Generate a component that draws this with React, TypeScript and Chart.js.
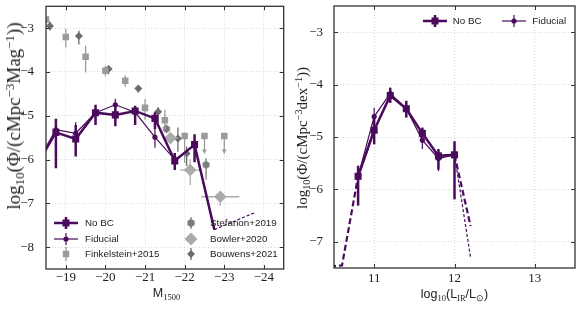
import { useEffect, useRef } from 'react';
import { Chart, registerables } from 'chart.js';

Chart.register(...registerables);

const PURPLE = '#4a0b5d';
const GRAY_FINK = '#9b9b9b';
const GRAY_STEF = '#7c7c7c';
const GRAY_BOWL = '#ababab';
const GRAY_BOUW = '#6c6c6c';

// ---------- UV panel ----------
const uvTicksX = [-19, -20, -21, -22, -23, -24];
const uvTicksY = [-3, -4, -5, -6, -7, -8];
const magBins = [-18.25, -18.75, -19.25, -19.75, -20.25, -20.75, -21.25, -21.75, -22.25, -22.75];
const noBcUV = [-6.15, -5.38, -5.53, -4.93, -4.98, -4.89, -5.06, -6.03, -5.66, -7.6];
const noBcUVLo = [-6.4, -6.2, -5.93, -5.21, -5.24, -5.21, -5.3, -6.24, -6.06, null];
const noBcUVHi = [-5.9, -5.07, -5.21, -4.75, -4.8, -4.77, -4.92, -5.85, -5.42, null];
const fidUV = [-6.1, -5.32, -5.4, -4.93, -4.75, -4.92, -5.49, -6.0, -5.68, -7.6];
const fidUVLo = [-6.35, -5.6, -5.7, -5.15, -4.98, -5.12, -5.73, -6.2, -5.95, null];
const fidUVHi = [-5.85, -5.1, -5.15, -4.76, -4.61, -4.78, -5.3, -5.85, -5.45, null];
const uvTailMag = [-22.75, -23.75];
const uvTailPhi = [-7.6, -7.22];

const finkMag = [-18.5, -19.0, -19.5, -20.0, -20.5, -21.0, -21.5, -22.0];
const finkPhi = [-2.8, -3.2, -3.65, -3.97, -4.2, -4.82, -5.1, -5.46];
const finkLo = [-2.9, -3.44, -4.01, -4.1, -4.34, -5.09, -5.32, -6.08];
const finkHi = [-2.7, -3.02, -3.4, -3.86, -4.08, -4.62, -4.86, -5.38];
const finkLimMag = [-22.5, -23.0];
const finkLimPhi = [-5.46, -5.46];

const stefMag = [-21.54, -22.54];
const stefPhi = [-5.3, -6.12];
const stefLo = [-5.4, -6.46];
const stefHi = [-5.2, -5.97];

const bowlMag = [-21.64, -22.14, -22.9];
const bowlPhi = [-5.51, -6.24, -6.85];
const bowlLo = [-5.58, -6.58, -7.06];
const bowlHi = [-5.44, -6.0, -6.74];
const bowlXErr = [0.2, 0.25, 0.48];

const bouwMag = [-18.6, -19.33, -20.08, -20.83, -21.33, -21.83, -22.05];
const bouwPhi = [-2.95, -3.18, -3.93, -4.38, -4.91, -5.52, -5.86];
const bouwLo = [-3.05, -3.37, -4.05, -4.47, -5.2, -5.82, -6.15];
const bouwHi = [-2.85, -3.06, -3.86, -4.3, -4.8, -5.27, -5.7];

// ---------- IR panel ----------
const irTicksX = [11, 12, 13];
const irTicksY = [-3, -4, -5, -6, -7];
const irBins = [10.8, 11.0, 11.2, 11.4, 11.6, 11.8, 12.0];
const noBcIR = [-5.75, -4.87, -4.21, -4.46, -4.93, -5.36, -5.34];
const noBcIRLo = [-6.31, -5.14, -4.35, -4.63, -5.1, -5.62, -6.19];
const noBcIRHi = [-5.55, -4.62, -4.06, -4.31, -4.82, -5.23, -5.08];
const fidIR = [-5.75, -4.61, -4.17, -4.46, -5.06, -5.41, -5.34];
const fidIRLo = [-6.0, -4.85, -4.3, -4.6, -5.23, -5.65, -5.6];
const fidIRHi = [-5.55, -4.44, -4.06, -4.33, -4.9, -5.25, -5.15];
const irLowTailX = [10.45, 10.6, 10.8, 11.0];
const irLowTailY = [-7.47, -7.45, -5.75, -4.87];
const irHighTailX = [12.0, 12.2];
const noBcHighTail = [-5.34, -6.7];
const fidHighTail = [-5.34, -7.3];

const pts = (xs: number[], ys: number[]) => xs.map((x, i) => ({ x, y: ys[i] }));
const fmt = (v: number) => (v < 0 ? '\u2212' + Math.abs(v) : String(v));

function hexImage(r: number, color: string) {
  const c = document.createElement('canvas');
  const s = Math.ceil(2 * r + 2);
  c.width = s;
  c.height = s;
  const ctx = c.getContext('2d')!;
  ctx.fillStyle = color;
  ctx.beginPath();
  for (let k = 0; k < 6; k++) {
    const a = -Math.PI / 2 + (k * Math.PI) / 3;
    const px = s / 2 + r * Math.cos(a);
    const py = s / 2 + r * Math.sin(a);
    if (k === 0) ctx.moveTo(px, py);
    else ctx.lineTo(px, py);
  }
  ctx.closePath();
  ctx.fill();
  return c;
}

const errorBarPlugin = {
  id: 'errbars',
  beforeDatasetDraw(chart: any, args: any) {
    const ds = chart.data.datasets[args.index];
    if (!ds.errLo && !ds.xErr && !ds.limLen) return;
    const xs = chart.scales.x;
    const ys = chart.scales.y;
    const a = chart.chartArea;
    const ctx = chart.ctx;
    ctx.save();
    ctx.beginPath();
    ctx.rect(a.left, a.top, a.right - a.left, a.bottom - a.top);
    ctx.clip();
    ctx.strokeStyle = ds.errColor || ds.borderColor;
    ctx.fillStyle = ds.errColor || ds.borderColor;
    ctx.lineWidth = ds.errWidth || 1.2;
    ctx.setLineDash([]);
    ds.data.forEach((p: any, i: number) => {
      const px = xs.getPixelForValue(p.x);
      const py = ys.getPixelForValue(p.y);
      if (ds.errLo && ds.errLo[i] != null) {
        ctx.beginPath();
        ctx.moveTo(px, ys.getPixelForValue(ds.errLo[i]));
        ctx.lineTo(px, ys.getPixelForValue(ds.errHi[i]));
        ctx.stroke();
      }
      if (ds.xErr && ds.xErr[i]) {
        ctx.beginPath();
        ctx.moveTo(xs.getPixelForValue(p.x - ds.xErr[i]), py);
        ctx.lineTo(xs.getPixelForValue(p.x + ds.xErr[i]), py);
        ctx.stroke();
      }
      if (ds.limLen) {
        const ey = ys.getPixelForValue(p.y - ds.limLen);
        ctx.beginPath();
        ctx.moveTo(px, py);
        ctx.lineTo(px, ey);
        ctx.stroke();
        ctx.beginPath();
        ctx.moveTo(px - 2.5, ey - 4);
        ctx.lineTo(px + 2.5, ey - 4);
        ctx.lineTo(px, ey);
        ctx.closePath();
        ctx.fill();
      }
    });
    ctx.restore();
  },
};

const framePlugin = {
  id: 'frame',
  afterDatasetsDraw(chart: any) {
    const { ctx, chartArea: a, scales } = chart;
    ctx.save();
    ctx.setLineDash([]);
    ctx.strokeStyle = '#333';
    ctx.lineWidth = 1;
    const tl = 4;
    ctx.beginPath();
    scales.x.ticks.forEach((t: any) => {
      const px = Math.round(scales.x.getPixelForValue(t.value)) + 0.5;
      ctx.moveTo(px, a.bottom);
      ctx.lineTo(px, a.bottom - tl);
      ctx.moveTo(px, a.top);
      ctx.lineTo(px, a.top + tl);
    });
    scales.y.ticks.forEach((t: any) => {
      const py = Math.round(scales.y.getPixelForValue(t.value)) + 0.5;
      ctx.moveTo(a.left, py);
      ctx.lineTo(a.left + tl, py);
      ctx.moveTo(a.right, py);
      ctx.lineTo(a.right - tl, py);
    });
    ctx.stroke();
    ctx.lineWidth = 1.3;
    ctx.strokeRect(a.left, a.top, a.right - a.left, a.bottom - a.top);
    ctx.restore();
  },
};

function axis(min: number, max: number, ticks: number[], reverse: boolean, fit: (s: any) => void, padding: number) {
  return {
    type: 'linear',
    min,
    max,
    reverse,
    afterBuildTicks: (s: any) => {
      s.ticks = ticks.map((v) => ({ value: v }));
    },
    afterFit: (s: any) => {
      fit(s);
      s.paddingTop = 0;
      s.paddingBottom = 0;
      s.paddingLeft = 0;
      s.paddingRight = 0;
    },
    grid: { color: '#cfcfcf', lineWidth: 0.8, drawTicks: false },
    border: { display: false, dash: [1, 2] },
    ticks: {
      padding,
      color: '#222',
      font: { family: 'Liberation Serif', size: 13 },
      maxRotation: 0,
      autoSkip: false,
      callback: (v: number) => fmt(v),
    },
  };
}

function lineSet(data: any[], width: number, style: string, radius: number, lo?: any[], hi?: any[], dash?: number[], radii?: number[]) {
  return {
    data,
    showLine: true,
    borderColor: PURPLE,
    backgroundColor: PURPLE,
    borderWidth: width,
    borderDash: dash || [],
    pointStyle: style,
    pointRadius: radii || radius,
    pointBorderWidth: 0,
    errLo: lo,
    errHi: hi,
    errWidth: width,
    clip: 0,
  };
}

function markerSet(data: any[], color: string, style: any, radius: number, lo?: any[], hi?: any[], extra?: any) {
  return {
    data,
    showLine: false,
    borderColor: color,
    backgroundColor: color,
    pointStyle: style,
    pointRadius: radius,
    pointBorderWidth: 0,
    errLo: lo,
    errHi: hi,
    errWidth: 1.3,
    clip: 0,
    ...(extra || {}),
  };
}

const baseOptions = (scales: any, pad: any) => ({
  responsive: false,
  animation: false,
  events: [],
  layout: { padding: pad },
  plugins: { legend: { display: false }, tooltip: { enabled: false } },
  scales,
});

const legendText: any = {
  position: 'absolute',
  fontFamily: '"Liberation Sans", Arial, sans-serif',
  fontSize: 9.8,
  color: '#222',
  lineHeight: '12px',
  transform: 'translateY(-50%)',
  whiteSpace: 'nowrap',
};

const sub: any = { fontSize: '68%', position: 'relative', top: '0.3em' };
const sup: any = { fontSize: '68%', position: 'relative', top: '-0.5em' };

function IconLine({ thick }: { thick: boolean }) {
  const w = thick ? 2.5 : 1.2;
  return (
    <svg width="24" height="14" style={{ display: 'block' }}>
      <line x1="0" y1="7" x2="24" y2="7" stroke={PURPLE} strokeWidth={w} />
      <line x1="12" y1="1" x2="12" y2="13" stroke={PURPLE} strokeWidth={w} />
      {thick ? <rect x="8.5" y="3.5" width="7" height="7" fill={PURPLE} /> : <circle cx="12" cy="7" r="2.6" fill={PURPLE} />}
    </svg>
  );
}

function IconMarker({ kind }: { kind: string }) {
  return (
    <svg width="16" height="16" style={{ display: 'block' }}>
      {kind === 'fink' && (
        <>
          <line x1="8" y1="1" x2="8" y2="15" stroke={GRAY_FINK} strokeWidth="1.3" />
          <rect x="4.8" y="4.8" width="6.4" height="6.4" fill={GRAY_FINK} />
        </>
      )}
      {kind === 'stef' && (
        <>
          <line x1="8" y1="2" x2="8" y2="14" stroke={GRAY_STEF} strokeWidth="1.3" />
          <polygon points="8,3.8 11.6,5.9 11.6,10.1 8,12.2 4.4,10.1 4.4,5.9" fill={GRAY_STEF} />
        </>
      )}
      {kind === 'bowl' && <polygon points="8,1.5 14.5,8 8,14.5 1.5,8" fill={GRAY_BOWL} />}
      {kind === 'bouw' && (
        <>
          <line x1="8" y1="2" x2="8" y2="14" stroke={GRAY_BOUW} strokeWidth="1.3" />
          <polygon points="8,4 12,8 8,12 4,8" fill={GRAY_BOUW} />
        </>
      )}
    </svg>
  );
}

export default function App() {
  const leftRef = useRef<HTMLCanvasElement>(null);
  const rightRef = useRef<HTMLCanvasElement>(null);

  useEffect(() => {
    const hex = hexImage(4, GRAY_STEF);
    const left = new Chart(leftRef.current!, {
      type: 'scatter',
      plugins: [errorBarPlugin, framePlugin],
      data: {
        datasets: [
          lineSet(pts(magBins, noBcUV), 2.5, 'rect', 5, noBcUVLo, noBcUVHi, undefined, magBins.map((_, i) => (i === magBins.length - 1 ? 0 : 5))),
          lineSet(pts(magBins, fidUV), 1.2, 'circle', 2.6, fidUVLo, fidUVHi, undefined, magBins.map((_, i) => (i === magBins.length - 1 ? 0 : 2.6))),
          lineSet(pts(uvTailMag, uvTailPhi), 1.2, 'circle', 0, undefined, undefined, [3, 2]),
          markerSet(pts(finkMag, finkPhi), GRAY_FINK, 'rect', 4.6, finkLo, finkHi),
          markerSet(pts(finkLimMag, finkLimPhi), GRAY_FINK, 'rect', 4.6, undefined, undefined, { limLen: 0.4 }),
          markerSet(pts(stefMag, stefPhi), GRAY_STEF, hex, 4, stefLo, stefHi),
          markerSet(pts(bowlMag, bowlPhi), GRAY_BOWL, 'rectRot', 6.3, bowlLo, bowlHi, { xErr: bowlXErr }),
          markerSet(pts(bouwMag, bouwPhi), GRAY_BOUW, 'rectRot', 4, bouwLo, bouwHi),
        ] as any,
      },
      options: baseOptions(
        {
          x: axis(-24.5, -18.5, uvTicksX, true, (s: any) => { s.height = 40; }, 1),
          y: axis(-8.5, -2.5, uvTicksY, false, (s: any) => { s.width = 46; }, 12),
        },
        { left: 0, right: 3, top: 6, bottom: 0 }
      ) as any,
    });

    const right = new Chart(rightRef.current!, {
      type: 'scatter',
      plugins: [errorBarPlugin, framePlugin],
      data: {
        datasets: [
          lineSet(pts(irBins, noBcIR), 2.5, 'rect', 5, noBcIRLo, noBcIRHi),
          lineSet(pts(irBins, fidIR), 1.2, 'circle', 2.6, fidIRLo, fidIRHi),
          lineSet(pts(irLowTailX, irLowTailY), 2.2, 'circle', 0, undefined, undefined, [6, 3]),
          lineSet(pts(irHighTailX, noBcHighTail), 2.2, 'circle', 0, undefined, undefined, [6, 3]),
          lineSet(pts(irHighTailX, fidHighTail), 1.2, 'circle', 0, undefined, undefined, [3, 2]),
        ] as any,
      },
      options: baseOptions(
        {
          x: axis(10.5, 13.5, irTicksX, false, (s: any) => { s.height = 41; }, 3),
          y: axis(-7.5, -2.5, irTicksY, false, (s: any) => { s.width = 44; }, 11),
        },
        { left: 0, right: 7, top: 6, bottom: 0 }
      ) as any,
    });

    return () => {
      left.destroy();
      right.destroy();
    };
  }, []);

  const serif = '"Liberation Serif", "Times New Roman", serif';
  const sans = '"Liberation Sans", Arial, sans-serif';

  return (
    <div style={{ position: 'fixed', left: 0, top: 0, width: 582, height: 309, background: '#fff', overflow: 'hidden' }}>
      <canvas ref={leftRef} width={290} height={309} style={{ position: 'absolute', left: 0, top: 0 }} />
      <canvas ref={rightRef} width={292} height={309} style={{ position: 'absolute', left: 290, top: 0 }} />

      {/* Left y title */}
      <div
        style={{
          position: 'absolute', left: 15, top: 116, transform: 'translate(-50%, -50%) rotate(-90deg)',
          fontFamily: serif, fontSize: 19, color: '#222', whiteSpace: 'nowrap', lineHeight: '22px',
        }}
      >
        log<span style={sub}>10</span>(Φ/(cMpc<span style={sup}>−3</span>Mag<span style={sup}>−1</span>))
      </div>
      {/* Right y title */}
      <div
        style={{
          position: 'absolute', left: 303, top: 138, transform: 'translate(-50%, -50%) rotate(-90deg)',
          fontFamily: serif, fontSize: 15, color: '#222', whiteSpace: 'nowrap', lineHeight: '18px',
        }}
      >
        log<span style={sub}>10</span>(Φ/(cMpc<span style={sup}>−3</span>dex<span style={sup}>−1</span>))
      </div>

      {/* X titles */}
      <div
        style={{
          position: 'absolute', left: 166.5, top: 293, transform: 'translate(-50%, -50%)',
          fontFamily: sans, fontSize: 12.5, color: '#222', whiteSpace: 'nowrap', lineHeight: '16px',
        }}
      >
        M<span style={{ ...sub, fontFamily: serif }}>1500</span>
      </div>
      <div
        style={{
          position: 'absolute', left: 454.5, top: 294, transform: 'translate(-50%, -50%)',
          fontFamily: sans, fontSize: 12.5, color: '#222', whiteSpace: 'nowrap', lineHeight: '16px',
        }}
      >
        log<span style={{ ...sub, fontFamily: serif }}>10</span>(L<span style={{ ...sub, fontFamily: serif }}>IR</span>/L<span style={{ ...sub, fontFamily: serif }}>⊙</span>)
      </div>

      {/* Left legend */}
      <div style={{ position: 'absolute', left: 54, top: 215.7 }}><IconLine thick={true} /></div>
      <div style={{ ...legendText, left: 85, top: 222.7 }}>No BC</div>
      <div style={{ position: 'absolute', left: 54, top: 232 }}><IconLine thick={false} /></div>
      <div style={{ ...legendText, left: 85, top: 239 }}>Fiducial</div>
      <div style={{ position: 'absolute', left: 58, top: 246.3 }}><IconMarker kind="fink" /></div>
      <div style={{ ...legendText, left: 85, top: 254.3 }}>Finkelstein+2015</div>

      <div style={{ position: 'absolute', left: 182.7, top: 214.7 }}><IconMarker kind="stef" /></div>
      <div style={{ ...legendText, left: 210, top: 222.7 }}>Stefanon+2019</div>
      <div style={{ position: 'absolute', left: 182.7, top: 231 }}><IconMarker kind="bowl" /></div>
      <div style={{ ...legendText, left: 210, top: 239 }}>Bowler+2020</div>
      <div style={{ position: 'absolute', left: 182.7, top: 246.3 }}><IconMarker kind="bouw" /></div>
      <div style={{ ...legendText, left: 210, top: 254.3 }}>Bouwens+2021</div>

      {/* Right legend */}
      <div style={{ position: 'absolute', left: 422.5, top: 13.7 }}><IconLine thick={true} /></div>
      <div style={{ ...legendText, left: 452.7, top: 20.7 }}>No BC</div>
      <div style={{ position: 'absolute', left: 501.5, top: 13.7 }}><IconLine thick={false} /></div>
      <div style={{ ...legendText, left: 532.3, top: 20.7 }}>Fiducial</div>
    </div>
  );
}
